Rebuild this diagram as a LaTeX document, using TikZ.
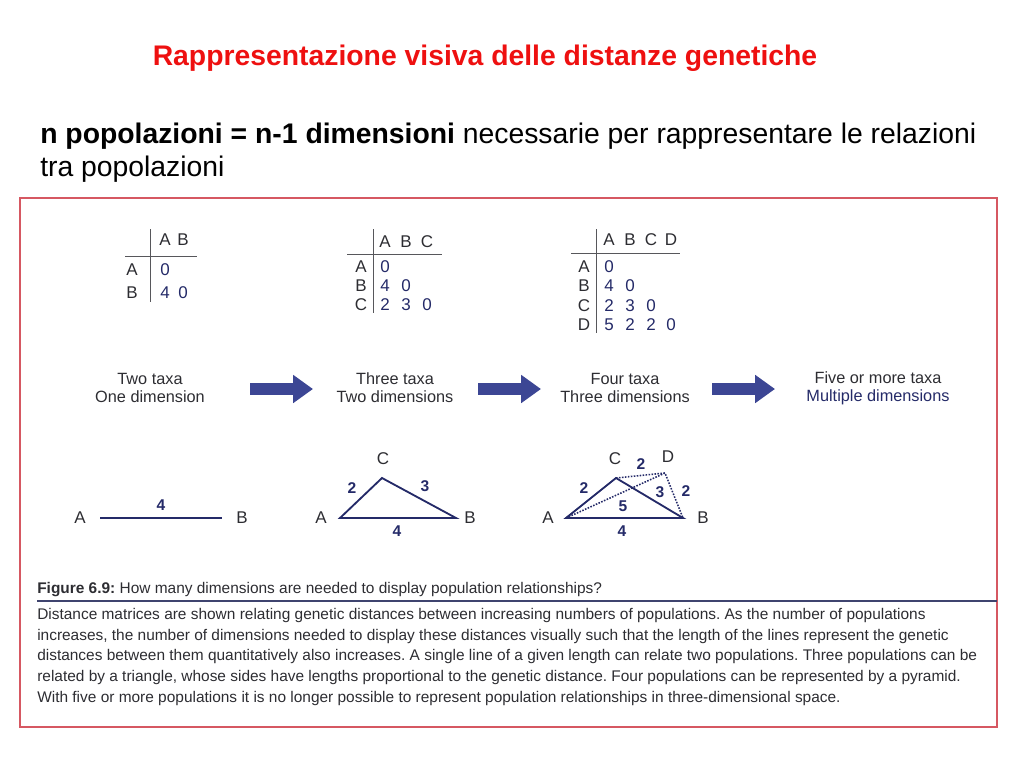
\documentclass[tikz,border=0pt]{standalone}
\usepackage{fontspec}
\setmainfont{Liberation Sans}
\usepackage{xcolor}
\definecolor{titleRed}{RGB}{238,16,16}
\definecolor{figNavy}{RGB}{36,42,104}
\definecolor{arrowBlue}{RGB}{60,70,148}
\definecolor{frameRed}{RGB}{214,88,98}
\definecolor{figGray}{RGB}{45,45,50}
\usetikzlibrary{arrows.meta, positioning, calc}
\frenchspacing

\begin{document}
\begin{tikzpicture}[x=0.024805cm, y=-0.024805cm,
  lab/.style={font=\fontsize{12}{13}\selectfont, text=figGray, inner sep=0pt},
  val/.style={font=\fontsize{12}{13}\selectfont, text=figNavy, inner sep=0pt},
  taxa/.style={font=\fontsize{11.5}{12.7}\selectfont, align=center, text=figGray},
  dist/.style={font=\fontsize{11}{13}\selectfont\bfseries, text=figNavy, inner sep=0pt},
  grid/.style={draw=figGray!80, line width=0.7pt},
  edge/.style={draw=figNavy, line width=1.3pt},
  dotedge/.style={draw=figNavy, line width=1.1pt, densely dotted},
  bigarrow/.style={draw=arrowBlue, line width=8.5pt,
                   -{Triangle[length=14pt,width=19pt]}},
  caption/.style={font=\fontsize{10.9}{14.6}\selectfont, text=figGray,
                  align=left, inner sep=0pt}]

  \useasboundingbox (0,0) rectangle (1024,768);

  % ---- Slide texts ----
  \node[font=\fontsize{20}{24}\selectfont\bfseries, text=titleRed, anchor=base]
    (title) at (485,66) {Rappresentazione visiva delle distanze genetiche};
  \node[font=\fontsize{20}{24}\selectfont, anchor=base west, inner sep=0pt]
    (rule1) at (40,143) {\textbf{n popolazioni = n-1 dimensioni} necessarie per rappresentare le relazioni};
  \node[font=\fontsize{20}{24}\selectfont, anchor=base west, inner sep=0pt]
    (rule2) at (40,176) {tra popolazioni};

  % ---- Figure frame ----
  \draw[draw=frameRed, line width=1.1pt] (20,198) rectangle (997,727);

  % ---- Matrix: two taxa ----
  \draw[grid] (150,229) -- (150,302);
  \draw[grid] (125,256) -- (197,256);
  \node[lab] (m1hA) at (165,240) {A};
  \node[lab] (m1hB) at (183,240) {B};
  \node[lab] (m1rA) at (132,270) {A};
  \node[lab] (m1rB) at (132,293) {B};
  \node[val] at (165,270) {0};
  \node[val] at (165,293) {4};
  \node[val] at (183,293) {0};

  % ---- Matrix: three taxa ----
  \draw[grid] (373,229) -- (373,313);
  \draw[grid] (347,254) -- (442,254);
  \node[lab] (m2hA) at (385,242) {A};
  \node[lab] (m2hB) at (406,242) {B};
  \node[lab] (m2hC) at (427,242) {C};
  \node[lab] (m2rA) at (361,267) {A};
  \node[lab] (m2rB) at (361,286) {B};
  \node[lab] (m2rC) at (361,305) {C};
  \node[val] at (385,267) {0};
  \node[val] at (385,286) {4};
  \node[val] at (406,286) {0};
  \node[val] at (385,305) {2};
  \node[val] at (406,305) {3};
  \node[val] at (427,305) {0};

  % ---- Matrix: four taxa ----
  \draw[grid] (596,229) -- (596,333);
  \draw[grid] (571,253) -- (680,253);
  \node[lab] (m3hA) at (609,240) {A};
  \node[lab] (m3hB) at (630,240) {B};
  \node[lab] (m3hC) at (651,240) {C};
  \node[lab] (m3hD) at (671,240) {D};
  \node[lab] (m3rA) at (584,267) {A};
  \node[lab] (m3rB) at (584,286) {B};
  \node[lab] (m3rC) at (584,306) {C};
  \node[lab] (m3rD) at (584,325) {D};
  \node[val] at (609,267) {0};
  \node[val] at (609,286) {4};
  \node[val] at (630,286) {0};
  \node[val] at (609,306) {2};
  \node[val] at (630,306) {3};
  \node[val] at (651,306) {0};
  \node[val] at (609,325) {5};
  \node[val] at (630,325) {2};
  \node[val] at (651,325) {2};
  \node[val] at (671,325) {0};

  % ---- Taxa labels ----
  \node[taxa] (two)   at (150,388) {Two taxa\\One dimension};
  \node[taxa] (three) at (395,388) {Three taxa\\Two dimensions};
  \node[taxa] (four)  at (625,388) {Four taxa\\Three dimensions};
  \node[taxa] (five)  at (878,388) {Five or more taxa\\\textcolor{figNavy}{Multiple dimensions}};

  % ---- Big arrows ----
  \coordinate (arr1s) at (250,389);  \coordinate (arr1e) at (313,389);
  \coordinate (arr2s) at (478,389);  \coordinate (arr2e) at (541,389);
  \coordinate (arr3s) at (712,389);  \coordinate (arr3e) at (775,389);
  \draw[bigarrow] (arr1s) -- (arr1e);
  \draw[bigarrow] (arr2s) -- (arr2e);
  \draw[bigarrow] (arr3s) -- (arr3e);

  % ---- One dimension ----
  \node[lab] (lA) at (80,518) {A};
  \node[lab] (lB) at (242,518) {B};
  \draw[edge] (lA) ++(20,0) coordinate (lAp) -- node[dist, above=5pt] {4} ($(lB)+(-20,0)$) coordinate (lBp);

  % ---- Two dimensions ----
  \node[lab] (tA) at (321,518) {A};
  \node[lab] (tB) at (470,518) {B};
  \node[lab] (tC) at (383,459) {C};
  \coordinate (tAp) at (340,518);
  \coordinate (tBp) at (456,518);
  \coordinate (tCp) at (382,478);
  \draw[edge] (tAp) -- (tCp) -- (tBp) -- cycle;
  \node[dist] at (352,488) {2};
  \node[dist] at (425,486) {3};
  \node[dist] at (397,531) {4};

  % ---- Three dimensions ----
  \node[lab] (pA) at (548,518) {A};
  \node[lab] (pB) at (703,518) {B};
  \node[lab] (pC) at (615,459) {C};
  \node[lab] (pD) at (668,457) {D};
  \coordinate (pAp) at (566,518);
  \coordinate (pBp) at (683,518);
  \coordinate (pCp) at (616,478);
  \coordinate (pDp) at (665,473);
  \draw[dotedge] (pCp) -- (pDp) -- (pBp);
  \draw[dotedge] (pAp) -- (pDp);
  \draw[edge] (pAp) -- (pCp) -- (pBp) -- cycle;
  \node[dist] at (584,488) {2};
  \node[dist] at (641,464) {2};
  \node[dist] at (660,492) {3};
  \node[dist] at (686,491) {2};
  \node[dist] at (623,506) {5};
  \node[dist] at (622,531) {4};

  % ---- Caption ----
  \node[caption, anchor=base west] (figtitle) at (37,593)
    {\textbf{Figure 6.9:} How many dimensions are needed to display population relationships?};
  \draw[draw=figNavy!70!gray, line width=0.8pt] (37,601) -- (997,601);
  \node[caption, anchor=north west] (figtext) at (37,608)
    {Distance matrices are shown relating genetic distances between increasing numbers of populations. As the number of populations\\
     increases, the number of dimensions needed to display these distances visually such that the length of the lines represent the genetic\\
     distances between them quantitatively also increases. A single line of a given length can relate two populations. Three populations can be\\
     related by a triangle, whose sides have lengths proportional to the genetic distance. Four populations can be represented by a pyramid.\\
     With five or more populations it is no longer possible to represent population relationships in three-dimensional space.};

\end{tikzpicture}
\end{document}
